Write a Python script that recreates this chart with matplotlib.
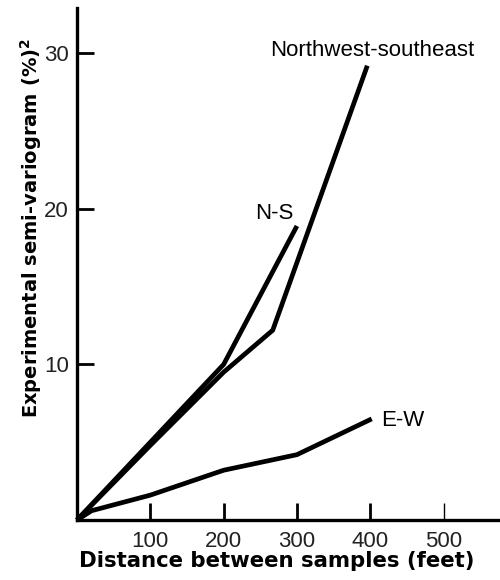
import matplotlib
matplotlib.use("Agg")
import matplotlib.pyplot as plt

# semi-variogram estimates
nwse_dist = [0, 100, 200, 267, 396]
nwse_gamma = [0, 4.8, 9.5, 12.2, 29.2]

ns_dist = [0, 100, 200, 300]
ns_gamma = [0, 5.0, 10.0, 18.9]

ew_dist = [0, 20, 100, 200, 300, 402]
ew_gamma = [0, 0.6, 1.6, 3.2, 4.2, 6.5]

x_ticks = [100, 200, 300, 400, 500]
y_ticks = [10, 20, 30]

plt.rcParams['font.family'] = ['Liberation Sans', 'DejaVu Sans']

fig = plt.figure(figsize=(5, 5.8), dpi=100)
ax = fig.add_axes([0.154, 0.1034, 0.846, 0.8826])

lw = 3.4
for xs, ys in [(nwse_dist, nwse_gamma), (ns_dist, ns_gamma), (ew_dist, ew_gamma)]:
    ax.plot(xs, ys, color="black", lw=lw, solid_joinstyle="miter",
            solid_capstyle="butt", clip_on=False)

# curve labels
ax.text(403, 30.2, "Northwest-southeast", ha="center", va="center", fontsize=16)
ax.text(269, 19.7, "N-S", ha="center", va="center", fontsize=16)
ax.text(445, 6.4, "E-W", ha="center", va="center", fontsize=16)

ax.set_xlim(0, 577)
ax.set_ylim(0, 32.9)
ax.set_xticks(x_ticks)
ax.set_yticks(y_ticks)
ax.tick_params(direction="in", length=12, width=2, labelsize=16,
               labelcolor="#222222", pad=6)
ax.tick_params(axis="x", pad=8)
ax.xaxis.get_major_ticks()[-1].tick1line.set_markeredgewidth(1)

for side in ["top", "right"]:
    ax.spines[side].set_visible(False)
for side in ["left", "bottom"]:
    ax.spines[side].set_linewidth(2.4)

fig.text(0.554, 1 - 561 / 580, "Distance between samples (feet)",
         ha="center", va="center", fontsize=15.3, fontweight="bold",
         family="DejaVu Sans")
fig.text(31 / 500, 1 - 228 / 580,
         r"Experimental semi-variogram (%)$^{\mathregular{2}}$",
         ha="center", va="center", rotation=90, fontsize=14, fontweight="bold",
         family="DejaVu Sans")

fig.savefig("out.png", dpi=100)
